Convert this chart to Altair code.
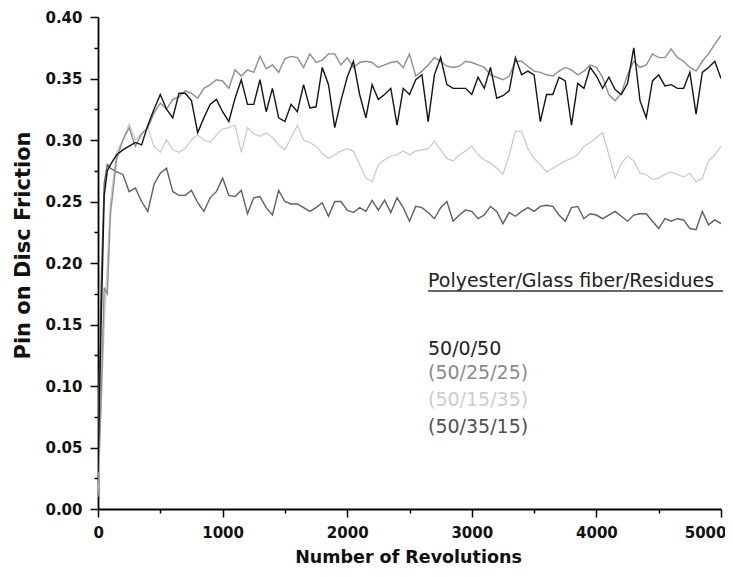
import altair as alt
import pandas as pd

# Sample positions (number of revolutions)
revolutions = [0, 25, 50, 75] + list(range(100, 5001, 50))

# 50/0/50 (black)
s_50_0_50 = [
    0.030, 0.150, 0.255, 0.275,
    0.280, 0.288, 0.292, 0.295, 0.298, 0.296, 0.312, 0.325, 0.337, 0.325,
    0.318, 0.338, 0.338, 0.332, 0.306, 0.318, 0.329, 0.333, 0.323, 0.315,
    0.334, 0.349, 0.329, 0.329, 0.349, 0.323, 0.342, 0.318, 0.315, 0.329,
    0.323, 0.345, 0.326, 0.327, 0.359, 0.345, 0.310, 0.332, 0.351, 0.364,
    0.337, 0.318, 0.345, 0.333, 0.337, 0.342, 0.312, 0.342, 0.337, 0.349,
    0.353, 0.315, 0.353, 0.367, 0.345, 0.342, 0.342, 0.342, 0.337, 0.351,
    0.342, 0.359, 0.334, 0.336, 0.340, 0.367, 0.353, 0.356, 0.353, 0.315,
    0.337, 0.337, 0.351, 0.348, 0.312, 0.346, 0.342, 0.359, 0.352, 0.342,
    0.351, 0.341, 0.337, 0.346, 0.375, 0.332, 0.318, 0.348, 0.353, 0.344,
    0.345, 0.342, 0.342, 0.355, 0.321, 0.355, 0.359, 0.364, 0.350,
]

# (50/25/25) (medium grey, top curve)
s_50_25_25 = [
    0.020, 0.090, 0.180, 0.175,
    0.240, 0.285, 0.300, 0.310, 0.295, 0.305, 0.310, 0.322, 0.330, 0.325,
    0.333, 0.335, 0.340, 0.338, 0.334, 0.342, 0.345, 0.349, 0.348, 0.342,
    0.357, 0.352, 0.357, 0.355, 0.368, 0.358, 0.361, 0.355, 0.366, 0.368,
    0.367, 0.359, 0.370, 0.363, 0.365, 0.370, 0.370, 0.361, 0.367, 0.359,
    0.363, 0.364, 0.363, 0.359, 0.361, 0.363, 0.364, 0.359, 0.370, 0.352,
    0.356, 0.361, 0.367, 0.364, 0.360, 0.359, 0.360, 0.364, 0.363, 0.361,
    0.359, 0.353, 0.351, 0.349, 0.352, 0.364, 0.364, 0.360, 0.356, 0.355,
    0.353, 0.352, 0.356, 0.359, 0.357, 0.353, 0.356, 0.361, 0.359, 0.351,
    0.337, 0.332, 0.338, 0.353, 0.364, 0.359, 0.361, 0.370, 0.367, 0.367,
    0.374, 0.367, 0.364, 0.359, 0.356, 0.364, 0.370, 0.378, 0.385,
]

# (50/15/35) (light grey)
s_50_15_35 = [
    0.010, 0.080, 0.150, 0.200,
    0.250, 0.290, 0.300, 0.313, 0.300, 0.305, 0.310, 0.295, 0.290, 0.300,
    0.292, 0.290, 0.293, 0.300, 0.304, 0.300, 0.298, 0.304, 0.309, 0.310,
    0.312, 0.290, 0.310, 0.305, 0.303, 0.306, 0.302, 0.296, 0.292, 0.302,
    0.312, 0.300, 0.298, 0.295, 0.289, 0.285, 0.288, 0.291, 0.293, 0.291,
    0.280, 0.269, 0.266, 0.280, 0.284, 0.287, 0.288, 0.291, 0.288, 0.291,
    0.292, 0.293, 0.299, 0.292, 0.285, 0.283, 0.288, 0.291, 0.295, 0.288,
    0.284, 0.281, 0.277, 0.272, 0.288, 0.307, 0.307, 0.293, 0.285, 0.280,
    0.274, 0.277, 0.280, 0.283, 0.285, 0.288, 0.295, 0.298, 0.302, 0.306,
    0.288, 0.269, 0.281, 0.287, 0.283, 0.273, 0.272, 0.268, 0.269, 0.272,
    0.274, 0.272, 0.270, 0.273, 0.266, 0.269, 0.283, 0.288, 0.295,
]

# (50/35/15) (dark grey, lowest curve)
s_50_35_15 = [
    0.050, 0.180, 0.265, 0.280,
    0.277, 0.274, 0.272, 0.258, 0.261, 0.250, 0.242, 0.264, 0.273, 0.277,
    0.258, 0.255, 0.255, 0.259, 0.249, 0.242, 0.253, 0.258, 0.269, 0.255,
    0.254, 0.259, 0.240, 0.253, 0.254, 0.245, 0.239, 0.259, 0.250, 0.248,
    0.248, 0.245, 0.242, 0.245, 0.249, 0.238, 0.250, 0.250, 0.243, 0.241,
    0.245, 0.242, 0.251, 0.243, 0.251, 0.241, 0.253, 0.245, 0.234, 0.246,
    0.245, 0.241, 0.236, 0.245, 0.250, 0.234, 0.239, 0.243, 0.242, 0.236,
    0.239, 0.246, 0.242, 0.232, 0.241, 0.238, 0.242, 0.245, 0.242, 0.246,
    0.247, 0.246, 0.239, 0.234, 0.245, 0.246, 0.236, 0.240, 0.239, 0.236,
    0.239, 0.242, 0.238, 0.234, 0.239, 0.240, 0.240, 0.234, 0.228, 0.236,
    0.234, 0.236, 0.235, 0.228, 0.227, 0.242, 0.231, 0.235, 0.232,
]

series_names = ["50/0/50", "(50/25/25)", "(50/15/35)", "(50/35/15)"]
series_values = [s_50_0_50, s_50_25_25, s_50_15_35, s_50_35_15]
line_colors = ["#141414", "#8e8e8e", "#c8c8c8", "#5f5f5f"]
label_colors = ["#1e1e1e", "#8a8a8a", "#cdcdcd", "#505050"]
legend_title = "Polyester/Glass fiber/Residues"

x_ticks = list(range(0, 5001, 500))
y_ticks = [round(i * 0.025, 3) for i in range(17)]

rows = []
for name, vals in zip(series_names, series_values):
    for r, v in zip(revolutions, vals):
        rows.append({"series": name, "rev": r, "friction": v})
df = pd.DataFrame(rows)

FONT = "DejaVu Sans"

x_enc = alt.X(
    "rev:Q",
    scale=alt.Scale(domain=[0, 5000], nice=False, zero=False),
    axis=alt.Axis(
        values=x_ticks,
        format="d",
        labelExpr="datum.value % 1000 == 0 ? datum.label : ''",
        labelFlush=True,
        labelFlushOffset=5,
        title="Number of Revolutions",
        titleFontSize=17.5,
        titleX=310,
        titleY=48,
        titleBaseline="middle",
        titleAlign="center",
        tickSize={"condition": {"test": "datum.value % 1000 != 0", "value": 4}, "value": 8},
        labelPadding=8,
    ),
)
y_enc = alt.Y(
    "friction:Q",
    scale=alt.Scale(domain=[0, 0.4], nice=False),
    axis=alt.Axis(
        values=y_ticks,
        labelExpr="round(datum.value * 40) % 2 == 0 ? format(datum.value, '.2f') : ''",
        title="Pin on Disc Friction",
        titleFontSize=21,
        titleX=-75,
        titleY=228,
        titleAngle=270,
        titleBaseline="middle",
        titleAlign="center",
        tickSize={"condition": {"test": "round(datum.value * 40) % 2 != 0", "value": 4}, "value": 8},
        labelPadding=8,
    ),
)

draw_order = [2, 3, 1, 0]
layers = []
for i in draw_order:
    layers.append(
        alt.Chart(df)
        .transform_filter(alt.datum.series == series_names[i])
        .mark_line(color=line_colors[i], strokeWidth=1.4 if i != 2 else 1.2, clip=True)
        .encode(x=x_enc, y=y_enc)
    )

# in-plot legend (text only)
legend_y = [338, 362, 389, 416]
layers.append(
    alt.Chart(pd.DataFrame({"t": [legend_title]}))
    .mark_text(align="left", baseline="alphabetic", font=FONT, fontSize=19, color="#222222")
    .encode(text="t:N", x=alt.value(330), y=alt.value(270))
)
layers.append(
    alt.Chart(pd.DataFrame({"a": [0]}))
    .mark_rule(color="#333333", strokeWidth=1.5)
    .encode(x=alt.value(330), x2=alt.value(625), y=alt.value(274))
)
for i, name in enumerate(series_names):
    layers.append(
        alt.Chart(pd.DataFrame({"t": [name]}))
        .mark_text(align="left", baseline="alphabetic", font=FONT, fontSize=19, color=label_colors[i])
        .encode(text="t:N", x=alt.value(330), y=alt.value(legend_y[i]))
    )

chart = (
    alt.layer(*layers)
    .properties(
        width=623,
        height=492,
        autosize=alt.AutoSizeParams(type="none"),
        padding={"left": 90, "top": 9, "right": 4, "bottom": 58},
        background="white",
    )
    .configure_view(stroke=None)
    .configure_axis(
        grid=False,
        domainColor="#000000",
        domainWidth=1.8,
        tickColor="#000000",
        tickWidth=1.5,
        labelFont=FONT,
        labelFontWeight="bold",
        labelFontSize=15,
        labelColor="#111111",
        titleFont=FONT,
        titleFontWeight="bold",
        titleColor="#111111",
    )
)

chart.save("out.html", embed_options={"renderer": "svg", "actions": False})
